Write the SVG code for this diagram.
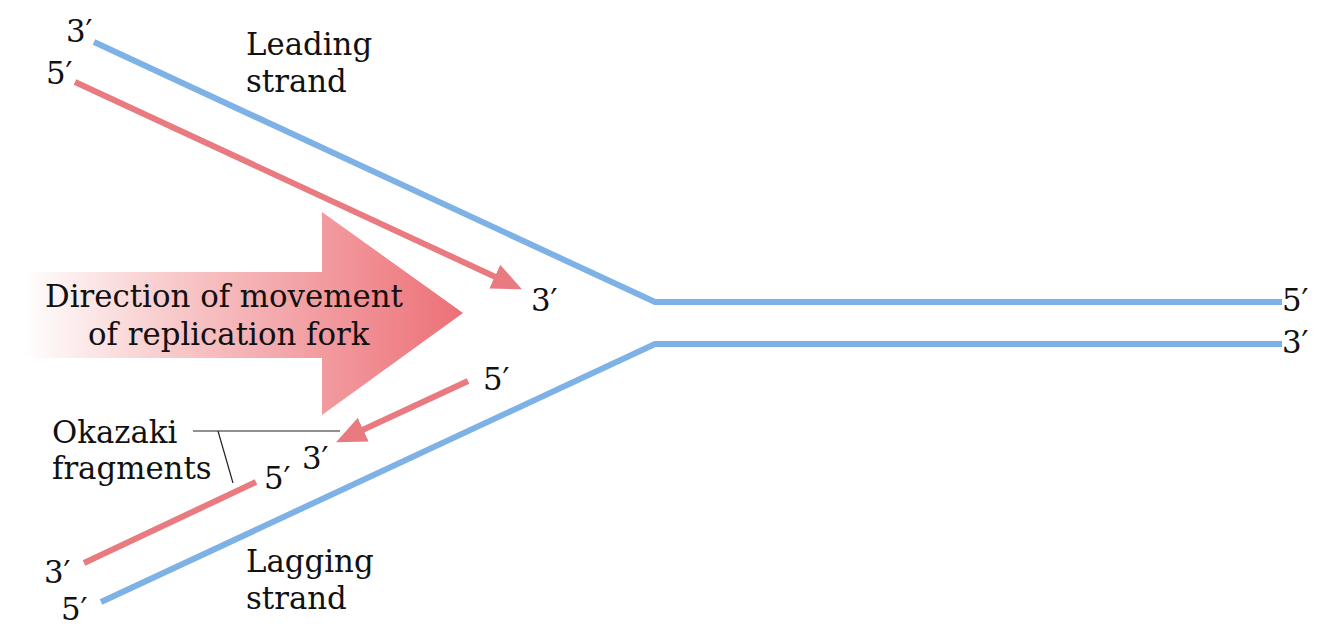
<svg xmlns="http://www.w3.org/2000/svg" width="1334" height="639" viewBox="0 0 1334 639">
<style>
.t{font-family:"DejaVu Serif","Liberation Serif",serif;font-size:30.8px;fill:#111}
.blue{fill:none;stroke:#7eb1e6;stroke-width:6;stroke-linejoin:miter}
.red{fill:none;stroke:#e97a80;stroke-width:6}
.thin{fill:none;stroke:#222;stroke-width:1.2}
</style>
<defs>
<linearGradient id="g" gradientUnits="userSpaceOnUse" x1="22" y1="0" x2="463" y2="0">
<stop offset="0" stop-color="#ffffff"/>
<stop offset="0.35" stop-color="#f8c8c9"/>
<stop offset="1" stop-color="#ec7077"/>
</linearGradient>
<marker id="ah" viewBox="0 0 30 26" refX="8" refY="13" markerWidth="30" markerHeight="26" markerUnits="userSpaceOnUse" orient="auto">
<path d="M0,0 L30,13 L0,26 z" fill="#e97a80"/>
</marker>
</defs>
<g id="direction-arrow">
<path d="M22,272 L322,272 L322,212 L463,313 L322,415 L322,358 L22,358 z" fill="url(#g)"/>
<text class="t" x="45" y="307">Direction of movement</text>
<text class="t" x="88" y="345">of replication fork</text>
</g>
<g id="connectors">
<polyline class="blue" points="94,42 655,302 1282,302"/>
<polyline class="blue" points="101,602 655,344 1282,344"/>
<line class="red" x1="75" y1="82" x2="502" y2="280" marker-end="url(#ah)"/>
<line class="red" x1="468" y1="381" x2="356" y2="433" marker-end="url(#ah)"/>
<line class="red" x1="84" y1="563" x2="256" y2="482"/>
<polyline class="thin" points="193,431 340,431"/>
<line class="thin" x1="218" y1="431" x2="233" y2="483"/>
</g>
<g id="leading-strand">
<text class="t" x="66" y="42">3′</text>
<text class="t" x="46" y="84">5′</text>
<text class="t" x="246" y="55">Leading</text>
<text class="t" x="246" y="92">strand</text>
<text class="t" x="531" y="311">3′</text>
</g>
<g id="template-ends">
<text class="t" x="1282" y="311">5′</text>
<text class="t" x="1282" y="353">3′</text>
</g>
<g id="lagging-strand">
<text class="t" x="483" y="390">5′</text>
<text class="t" x="52" y="443">Okazaki</text>
<text class="t" x="52" y="479">fragments</text>
<text class="t" x="302" y="469">3′</text>
<text class="t" x="264" y="489">5′</text>
<text class="t" x="44" y="583">3′</text>
<text class="t" x="61" y="620">5′</text>
<text class="t" x="246" y="572">Lagging</text>
<text class="t" x="246" y="609">strand</text>
</g>
</svg>
